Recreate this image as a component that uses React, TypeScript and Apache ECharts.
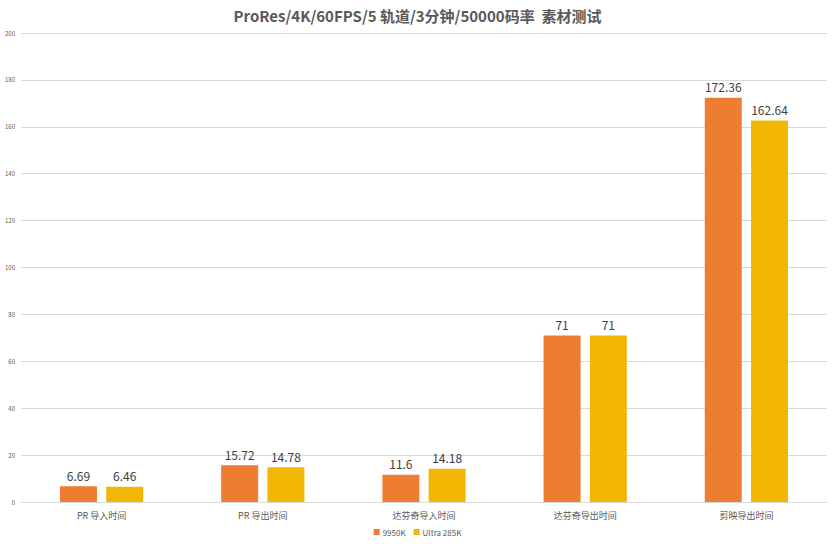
import { useEffect, useRef } from "react";
import * as echarts from "echarts";

const categories = ["PR 导入时间", "PR 导出时间", "达芬奇导入时间", "达芬奇导出时间", "剪映导出时间"];
const amdValues = [6.69, 15.72, 11.6, 71, 172.36];
const intelValues = [6.46, 14.78, 14.18, 71, 162.64];
const seriesNames = ["9950K", "Ultra 285K"];

const FONT = "'Noto Sans CJK SC', 'Noto Sans', sans-serif";

export default function App() {
  const chartRef = useRef<HTMLDivElement>(null);

  useEffect(() => {
    if (!chartRef.current) return;
    const chart = echarts.init(chartRef.current, null, { renderer: "svg" });

    const label = {
      show: true,
      position: "top",
      distance: 5,
      color: "#404040",
      fontSize: 12,
      fontFamily: FONT,
    };

    chart.setOption({
      animation: false,
      backgroundColor: "#ffffff",
      title: {
        text: "ProRes/4K/60FPS/5 轨道/3分钟/50000码率  素材测试",
        left: "center",
        top: 3,
        textStyle: {
          color: "#595959",
          fontSize: 15,
          fontWeight: "bold",
          fontFamily: FONT,
        },
      },
      legend: {
        bottom: 3,
        left: "center",
        itemWidth: 6,
        itemHeight: 6,
        itemGap: 8,
        icon: "rect",
        textStyle: { color: "#595959", fontSize: 8, fontFamily: FONT, padding: [0, 0, 0, -2] },
        data: seriesNames,
      },
      grid: { left: 21, right: 8, top: 33, bottom: 42, containLabel: false },
      xAxis: {
        type: "category",
        data: categories,
        axisLine: { lineStyle: { color: "#D9D9D9" } },
        axisTick: { show: false },
        axisLabel: { color: "#595959", fontSize: 9, fontFamily: FONT, margin: 9 },
      },
      yAxis: {
        type: "value",
        min: 0,
        max: 200,
        interval: 20,
        axisLine: { show: false },
        axisTick: { show: false },
        splitLine: { lineStyle: { color: "#D9D9D9" } },
        axisLabel: { color: "#595959", fontSize: 6, fontFamily: FONT, margin: 6 },
      },
      series: [
        {
          name: seriesNames[0],
          type: "bar",
          data: amdValues,
          barWidth: 37,
          barGap: "25%",
          itemStyle: { color: "#ED7D31" },
          label,
        },
        {
          name: seriesNames[1],
          type: "bar",
          data: intelValues,
          barWidth: 37,
          barGap: "25%",
          itemStyle: { color: "#F2B705" },
          label,
        },
      ],
    });

    return () => {
      chart.dispose();
    };
  }, []);

  return (
    <div
      ref={chartRef}
      style={{ position: "fixed", left: 0, top: 0, width: "835px", height: "544px" }}
    />
  );
}
